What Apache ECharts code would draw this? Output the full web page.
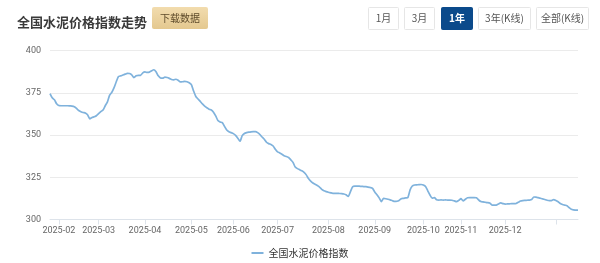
<!DOCTYPE html>
<html>
<head>
<meta charset="utf-8">
<script src="https://cdn.jsdelivr.net/npm/echarts@6/dist/echarts.min.js"></script>
<style>
html,body{margin:0;padding:0;background:#fff;}
#chart{width:600px;height:263px;}
</style>
</head>
<body>
<div id="chart"></div>
<script>
// ---- data ----
var seriesName = '全国水泥价格指数';
var titleText = '全国水泥价格指数走势';
var buttonLabels = ['1月', '3月', '1年', '3年(K线)', '全部(K线)'];
var downloadLabel = '下载数据';
var yTicks = [300, 325, 350, 375, 400];
// trading days: weekdays from START to END excluding these holidays
var START = '2025-01-22';
var END = '2026-01-19';
var HOLIDAYS = ['2025-01-28','2025-01-29','2025-01-30','2025-01-31','2025-02-03','2025-02-04',
  '2025-04-04','2025-05-01','2025-05-02','2025-05-05','2025-06-02',
  '2025-10-01','2025-10-02','2025-10-03','2025-10-06','2025-10-07','2025-10-08',
  '2026-01-01','2026-01-02'];
var indexValues = [
374.5,372,370.8,368.5,367.4,367.3,367.3,367.3,367.3,367.2,
367.1,366.7,365.7,364.5,363.8,363.3,363,362,359.6,360.3,
360.8,361.4,362.6,363.8,364.8,367.3,369.6,373.6,375.3,378,
381.5,384.6,385,385.5,386,386.5,386.4,385.6,384,385,
385.3,385.3,386.8,387.3,387,387.2,388,388.6,387.4,385,
383.8,383.6,384.2,384,383.5,382.8,382.6,383,382.4,381.4,
381.5,381.7,381.5,380.9,379.8,376,372.8,371.3,369.9,368.4,
367.1,366.1,365.3,364.8,363.5,361.3,358.6,357.7,357.3,355.1,
353,351.9,351.4,350.8,349.8,348.1,346.3,349.6,350.9,351.4,
351.7,351.9,352,352,351.4,350.3,348.8,347.5,345.7,344.9,
344.4,343.5,341.5,340,339.4,338.6,337.7,337.3,336.7,335.3,
333.8,331,330.1,329.5,328.8,327.9,326.4,324.2,322.7,321.6,
320.8,320.1,319.2,317.8,317,316.5,316.1,315.8,315.5,315.5,
315.5,315.4,315.3,315.1,314.6,313.6,316.5,319.4,319.8,319.8,
319.7,319.6,319.5,319.4,319.2,318.9,318.4,316.3,314.6,312.8,
310.6,312.5,312.3,312,311.6,311.1,310.7,310.8,311.3,312.3,
312.5,312.8,313,317.5,319.8,320.4,320.5,320.6,320.7,320.4,
319.5,317,314.5,312.6,312.9,311.7,311.5,311.6,311.5,311.6,
311.5,311.5,311.4,311,310.6,311.3,312.3,311,312,312.9,
313,313,313,312.8,311.6,310.6,310.4,310.2,310,309.7,
308.6,308.5,308.5,309.2,309.8,309.4,309.1,309.2,309.3,309.4,
309.4,309.5,310.2,310.9,311.2,311.3,311.4,311.5,311.8,313.3,
313.2,312.9,312.6,312.2,311.8,311.4,311.2,311.2,311.8,311.2,
310.5,309.5,308.9,308.5,308.1,307,306,305.7,305.5,305.5
];
var hiddenMonthLabels = ['2026-01'];

// ---- build categories ----
function pad(n){return n<10?'0'+n:''+n;}
function fmt(d){return d.getUTCFullYear()+'-'+pad(d.getUTCMonth()+1)+'-'+pad(d.getUTCDate());}
var dates = [];
(function(){
  var d = new Date(START+'T00:00:00Z'), e = new Date(END+'T00:00:00Z');
  while (d <= e) {
    var wd = d.getUTCDay(), s = fmt(d);
    if (wd !== 0 && wd !== 6 && HOLIDAYS.indexOf(s) < 0) dates.push(s);
    d = new Date(d.getTime() + 86400000);
  }
})();
var monthStart = {};
for (var i = 1; i < dates.length; i++) {
  if (dates[i].slice(0,7) !== dates[i-1].slice(0,7)) monthStart[i] = true;
}

var chart = echarts.init(document.getElementById('chart'), null, {renderer:'canvas'});

function btn(x, w, label, active) {
  return {
    type: 'group', left: x, top: 7,
    children: [
      {type:'rect', shape:{x:0,y:0,width:w,height:22,r:1},
       style:{fill: active ? '#0b4a8b' : '#fff', stroke: active ? '#0b4a8b' : '#e6e6e6', lineWidth:1}},
      {type:'text', style:{text:label, x:w/2, y:11, align:'center', verticalAlign:'middle',
        fill: active ? '#fff' : '#555', font: (active ? 'bold ' : '') + '10px "Noto Sans CJK SC", sans-serif'}}
    ]
  };
}
var btnX = [368, 404, 441, 478, 536];
var btnW = [30, 30, 31, 52, 52];

chart.setOption({
  animation: false,
  backgroundColor: '#fff',
  title: {
    text: titleText, left: 12, top: 11,
    textStyle: {fontSize: 13, fontWeight: 'bold', color: '#3a3a3a', fontFamily: '"Noto Sans CJK SC", sans-serif'}
  },
  graphic: [
    {type:'group', left:152, top:7, children:[
      {type:'rect', shape:{x:0,y:0,width:56,height:22,r:2},
       style:{fill: new echarts.graphic.LinearGradient(0,0,0,1,[{offset:0,color:'#f2dcae'},{offset:1,color:'#e4c88f'}])}},
      {type:'text', style:{text:downloadLabel, x:28, y:11, align:'center', verticalAlign:'middle',
        fill:'#5e4b2b', font:'10px "Noto Sans CJK SC", sans-serif'}}
    ]}
  ].concat(buttonLabels.map(function(l, k){ return btn(btnX[k], btnW[k], l, k === 2); })),
  legend: {
    bottom: 0, left: 'center',
    icon: 'rect', itemWidth: 12, itemHeight: 2, itemGap: 10,
    textStyle: {fontSize: 10, color: '#333', fontFamily: '"Noto Sans CJK SC", sans-serif'},
    data: [seriesName]
  },
  grid: {left: 50, right: 22, top: 50.5, height: 169, containLabel: false},
  xAxis: {
    type: 'category', data: dates, boundaryGap: false,
    axisLine: {show: true, lineStyle: {color: '#dde3ea'}},
    axisTick: {show: true, length: 5, lineStyle: {color: '#dde3ea'},
      interval: function(idx){ return !!monthStart[idx]; }},
    axisLabel: {
      color: '#666', fontSize: 9, margin: 7,
      fontFamily: 'Roboto, sans-serif',
      interval: function(idx, val){ return !!monthStart[idx] && hiddenMonthLabels.indexOf(val.slice(0,7)) < 0; },
      formatter: function(v){ return v.slice(0,7); }
    }
  },
  yAxis: {
    type: 'value', min: yTicks[0], max: yTicks[yTicks.length-1], interval: 25,
    axisLine: {show: false}, axisTick: {show: false},
    axisLabel: {color: '#666', fontSize: 9, margin: 9, fontFamily: 'Roboto, sans-serif'},
    splitLine: {lineStyle: {color: '#ebebeb'}}
  },
  series: [{
    name: seriesName, type: 'line', data: indexValues,
    showSymbol: false, symbol: 'none', smooth: 0.2,
    lineStyle: {color: '#7fb2dc', width: 1.7},
    itemStyle: {color: '#7fb2dc'}
  }]
});
</script>
</body>
</html>
